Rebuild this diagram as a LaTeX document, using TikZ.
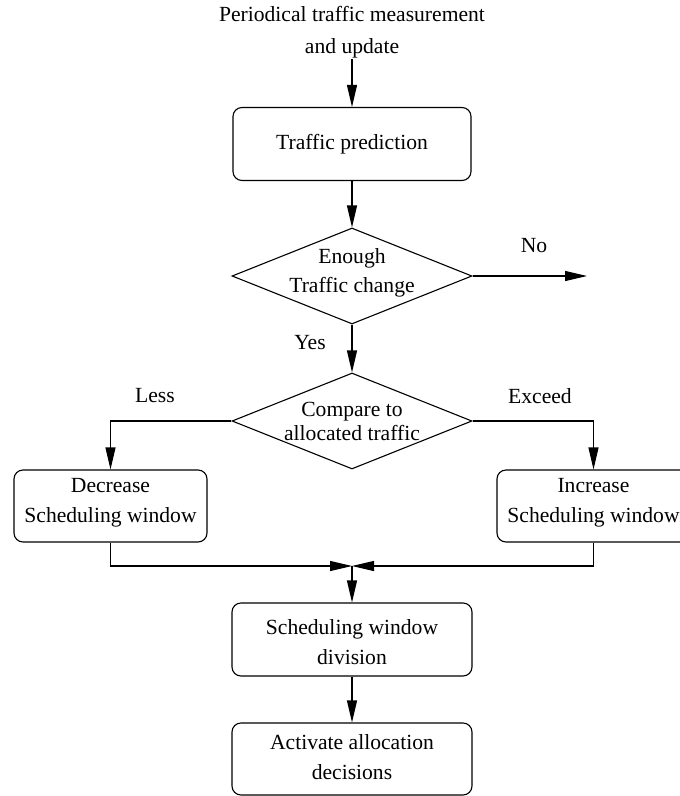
\documentclass[tikz,border=0pt]{standalone}
\usepackage{fontspec}
\setmainfont{Liberation Serif}
\usetikzlibrary{arrows.meta,shapes.geometric}

\begin{document}
\begin{tikzpicture}[x=1pt,y=-1pt,
  txt/.style={font=\fontsize{21.6}{30}\selectfont, align=center, inner sep=0pt},
  stepbox/.style={draw, line width=1.1pt, rounded corners=9pt, minimum height=73pt, inner sep=0pt},
  decision/.style={draw, shape=diamond, line width=1.1pt, inner sep=0pt,
                   minimum width=240pt, minimum height=96pt},
  flow/.style={line width=1.1pt, -{Triangle[length=22pt,width=10pt]}}]

\useasboundingbox (0,0) rectangle (680,796);

% start text
\node[txt] (start) at (352,32) {Periodical traffic measurement\\[2pt]and update};
\coordinate (startout) at (352,59);

% process steps
\node[stepbox, minimum width=238pt] (pred) at (352,144) {};
\node[txt] at (pred) {Traffic prediction};

\node[decision] (chg) at (352,276) {};
\node[txt, font=\fontsize{21.6}{29}\selectfont] at (352,273) {Enough\\Traffic change};

\node[decision] (cmp) at (352,421) {};
\node[txt, font=\fontsize{21.6}{24}\selectfont] at (352,421) {Compare to\\allocated traffic};

\node[stepbox, minimum width=193pt, minimum height=72pt] (dec) at (110.5,506) {};
\node[txt] at (110.5,503) {Decrease\\Scheduling window};

\node[stepbox, minimum width=193pt, minimum height=72pt] (inc) at (593.5,506) {};
\node[txt] at (593.5,503) {Increase\\Scheduling window};

\coordinate (join) at (352,566);

\node[stepbox, minimum width=240pt] (div) at (352,639.5) {};
\node[txt] at (352,642) {Scheduling window\\division};

\node[stepbox, minimum width=240pt, minimum height=72pt] (act) at (352,759) {};
\node[txt] at (352,757) {Activate allocation\\decisions};

% connectors
\draw[flow] (startout) -- (pred.north);
\draw[flow] (pred.south) -- (chg.north);

\coordinate (noend) at (587,276);
\draw[flow] (chg.east) -- (noend);
\node[txt] (nolbl) at (534,246) {No};

\draw[flow] (chg.south) -- (cmp.north);
\node[txt] (yeslbl) at (310,343) {Yes};

\draw[flow] (cmp.west) -| (dec.north);
\node[txt] (lesslbl) at (155,396) {Less};
\draw[flow] (cmp.east) -| (inc.north);
\node[txt] (exceedlbl) at (540,396) {Exceed};

\draw[flow] (dec.south) |- (join);
\draw[flow] (inc.south) |- (join);
\draw[flow] (join) -- (div.north);
\draw[flow] (div.south) -- (act.north);

\end{tikzpicture}
\end{document}
